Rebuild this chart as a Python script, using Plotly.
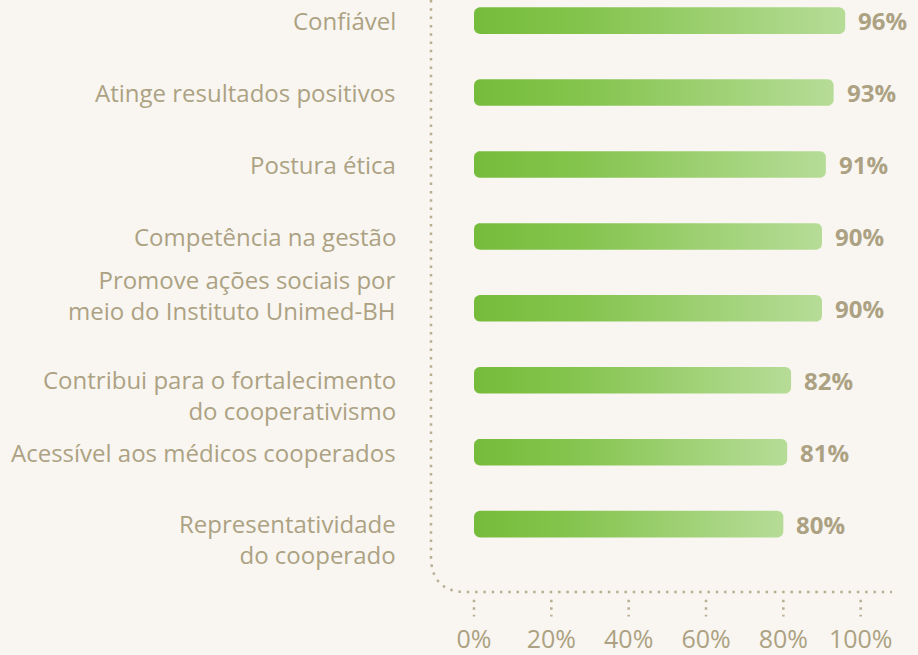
import numpy as np
import plotly.graph_objects as go

categories = [
    "Confiável",
    "Atinge resultados positivos",
    "Postura ética",
    "Competência na gestão",
    "Promove ações sociais por<br>meio do Instituto Unimed-BH",
    "Contribui para o fortalecimento<br>do cooperativismo",
    "Acessível aos médicos cooperados",
    "Representatividade<br>do cooperado",
]
values = [96, 93, 91, 90, 90, 82, 81, 80]
tick_values = [0, 20, 40, 60, 80, 100]
tick_labels = ["0%", "20%", "40%", "60%", "80%", "100%"]
# vertical offset (px) of each label block relative to its bar
label_shifts = [0, 0, 0, 0, 13, -15, 0, -15]

BG = "#f9f6f1"
TXT = "#aca283"
DOT = "#b8ae92"
FONT = "Open Sans"

W, H = 918, 655
ML, MR, MT, MB = 431, 26, 0, 53
XR = [-11.12, 108.1]
YR = [7.944, -0.287]
px_x = (XR[1] - XR[0]) / (W - ML - MR)
px_y = (YR[0] - YR[1]) / (H - MT - MB)

def rounded_bar(v, yc, half_px=13.5, r_px=6):
    hh = half_px * px_y
    rx, ry = r_px * px_x, r_px * px_y
    t = np.linspace(0, np.pi / 2, 8)
    xs, ys = [], []
    corners = [
        (v - rx, yc - hh + ry, -np.pi / 2),
        (v - rx, yc + hh - ry, 0),
        (0 + rx, yc + hh - ry, np.pi / 2),
        (0 + rx, yc - hh + ry, np.pi),
    ]
    for cx, cy, a0 in corners:
        a = a0 + t
        xs.extend(cx + rx * np.cos(a))
        ys.extend(cy + ry * np.sin(a))
    xs.append(xs[0]); ys.append(ys[0])
    return xs, ys

fig = go.Figure()
for i, v in enumerate(values):
    xs, ys = rounded_bar(v, i)
    fig.add_trace(go.Scatter(
        x=xs, y=ys, mode="lines", fill="toself",
        line=dict(width=0, color="rgba(0,0,0,0)"),
        fillgradient=dict(type="horizontal",
                          colorscale=[[0, "#76bc3b"], [0.3, "#84c44d"], [1, "#b6dc97"]]),
        hoverinfo="skip", showlegend=False,
    ))

annotations = []
for i, (c, v) in enumerate(zip(categories, values)):
    annotations.append(dict(
        x=-33 / (W - ML - MR), xref="paper", y=i, yref="y",
        text=c, showarrow=False, xanchor="right", yanchor="middle",
        align="right", yshift=label_shifts[i],
        font=dict(family=FONT, size=24, color=TXT),
    ))
    annotations.append(dict(
        x=v, xref="x", y=i, yref="y", text=f"{v}%",
        showarrow=False, xanchor="left", yanchor="middle", xshift=11,
        font=dict(family=FONT, size=24, color=TXT, weight=700),
    ))

shapes = []
cx = 36 / (W - ML - MR)
cy = 36 / (H - MT - MB)
shapes.append(dict(
    type="path", xref="paper", yref="paper",
    path=f"M 0,1 L 0,{cy} Q 0,0 {cx},0 L 1,0",
    line=dict(color=DOT, width=2.5, dash="2.5px,5.8px"),
))
for tv in tick_values:
    shapes.append(dict(
        type="line", xref="x", yref="paper", x0=tv, x1=tv,
        y0=-8 / (H - MT - MB), y1=-25 / (H - MT - MB),
        line=dict(color=DOT, width=2.5, dash="2.5px,5px"),
    ))

fig.update_layout(
    width=W, height=H,
    margin=dict(l=ML, r=MR, t=MT, b=MB),
    paper_bgcolor=BG, plot_bgcolor=BG,
    xaxis=dict(range=XR, tickvals=tick_values, ticktext=tick_labels,
               showgrid=False, zeroline=False, showline=False,
               ticks="outside", ticklen=25, tickcolor="rgba(0,0,0,0)",
               tickfont=dict(family=FONT, size=25, color=TXT), fixedrange=True),
    yaxis=dict(range=YR, showticklabels=False, showgrid=False,
               zeroline=False, showline=False, fixedrange=True),
    annotations=annotations, shapes=shapes,
    showlegend=False,
)

fig.write_html(
    "out.html",
    config={"displayModeBar": False},
    post_script="document.body.style.margin='0';document.body.style.background='" + BG + "';",
)
